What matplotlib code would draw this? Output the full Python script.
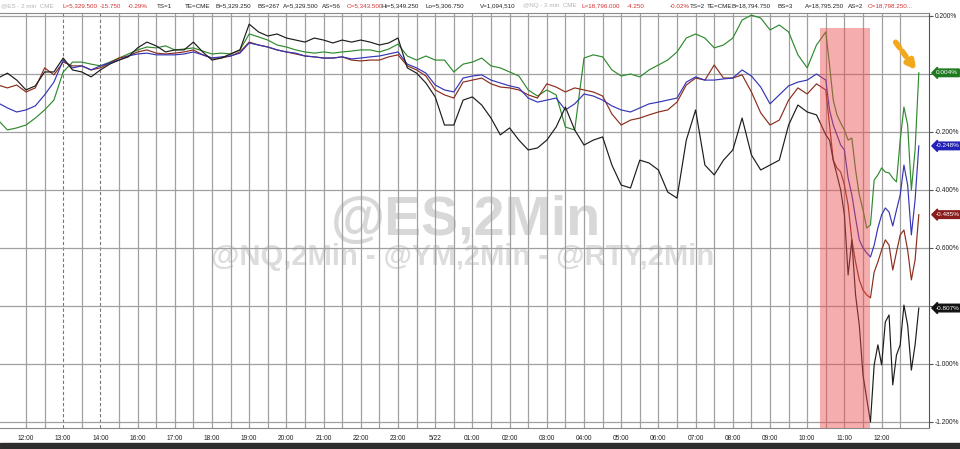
import numpy as np
import matplotlib
matplotlib.use('Agg')
import matplotlib.pyplot as plt
from matplotlib.patches import Rectangle
from matplotlib.transforms import blended_transform_factory

# time axis in session slots: 0 = 12:00, 1 = 13:00, 2 = 14:00, 3 = 16:00 ... 23 = 12:00 next day
t_coarse = np.arange(-0.75, 21.51, 0.25)
t_fine = np.linspace(21.6, 24.0, 25)
t = np.concatenate([t_coarse, t_fine])

tick_labels = ['12:00', '13:00', '14:00', '16:00', '17:00', '18:00', '19:00', '20:00',
               '21:00', '22:00', '23:00', '5/22', '01:00', '02:00', '03:00', '04:00',
               '05:00', '06:00', '07:00', '08:00', '09:00', '10:00', '11:00', '12:00']

# % change
nq = [-0.159, -0.193, -0.186, -0.176, -0.152, -0.124, -0.090, 0.007, 0.041, 0.041,
      0.034, 0.028, 0.041, 0.055, 0.069, 0.083, 0.093, 0.090, 0.097, 0.083,
      0.086, 0.090, 0.079, 0.069, 0.072, 0.069, 0.083, 0.138, 0.128, 0.117,
      0.100, 0.093, 0.083, 0.076, 0.072, 0.076, 0.072, 0.076, 0.079, 0.083,
      0.083, 0.076, 0.086, 0.103, 0.062, 0.048, 0.062, 0.048, 0.048, 0.007,
      0.034, 0.041, 0.055, 0.028, 0.021, 0.007, -0.007, -0.055, -0.076, -0.055,
      -0.072, -0.183, -0.193, 0.055, 0.066, 0.059, 0.014, -0.007, 0.000, -0.010,
      0.014, 0.031, 0.048, 0.076, 0.124, 0.138, 0.124, 0.090, 0.100, 0.124,
      0.186, 0.203, 0.193, 0.152, 0.169, 0.145, 0.066, 0.021, 0.100, 0.145,
      0.031, -0.090, -0.141, -0.169, -0.193, -0.228, -0.221, -0.331, -0.417, -0.469,
      -0.531, -0.521, -0.366, -0.348, -0.324, -0.338, -0.341, -0.359, -0.372, -0.228,
      -0.114, -0.176, -0.400, -0.262, 0.004]

es = [-0.100, -0.117, -0.131, -0.124, -0.110, -0.072, -0.028, 0.048, 0.021, 0.028,
      0.014, 0.028, 0.038, 0.048, 0.062, 0.069, 0.072, 0.066, 0.066, 0.066,
      0.069, 0.076, 0.066, 0.055, 0.059, 0.062, 0.072, 0.107, 0.100, 0.093,
      0.083, 0.076, 0.072, 0.062, 0.059, 0.055, 0.055, 0.059, 0.052, 0.055,
      0.059, 0.062, 0.069, 0.076, 0.034, 0.021, 0.003, -0.038, -0.055, -0.062,
      -0.014, -0.007, -0.003, -0.021, -0.031, -0.041, -0.048, -0.083, -0.097, -0.090,
      -0.083, -0.124, -0.103, -0.069, -0.076, -0.090, -0.110, -0.124, -0.131, -0.117,
      -0.103, -0.097, -0.090, -0.083, -0.028, -0.010, -0.021, -0.021, -0.017, -0.014,
      0.014, -0.007, -0.045, -0.103, -0.072, -0.041, -0.028, -0.021, 0.000, -0.021,
      -0.124, -0.176, -0.210, -0.245, -0.262, -0.359, -0.417, -0.497, -0.572, -0.600,
      -0.617, -0.631, -0.590, -0.531, -0.486, -0.462, -0.476, -0.524, -0.469, -0.417,
      -0.314, -0.383, -0.555, -0.434, -0.248]

ym = [-0.038, -0.048, -0.038, -0.062, -0.048, 0.021, -0.003, 0.041, 0.028, 0.028,
      0.014, 0.021, 0.038, 0.055, 0.062, 0.076, 0.083, 0.072, 0.069, 0.072,
      0.076, 0.083, 0.066, 0.055, 0.055, 0.062, 0.076, 0.110, 0.100, 0.093,
      0.083, 0.076, 0.069, 0.062, 0.059, 0.055, 0.055, 0.059, 0.048, 0.045,
      0.048, 0.048, 0.059, 0.066, 0.028, 0.014, -0.007, -0.055, -0.072, -0.083,
      -0.028, -0.021, -0.014, -0.034, -0.045, -0.048, -0.055, -0.072, -0.083, -0.034,
      -0.045, -0.062, -0.048, -0.055, -0.062, -0.076, -0.138, -0.176, -0.159, -0.152,
      -0.141, -0.131, -0.124, -0.097, -0.038, -0.014, -0.021, 0.031, -0.014, -0.014,
      -0.003, -0.062, -0.134, -0.176, -0.159, -0.090, -0.048, -0.069, -0.034, -0.055,
      -0.176, -0.297, -0.324, -0.338, -0.383, -0.452, -0.572, -0.648, -0.710, -0.745,
      -0.762, -0.772, -0.683, -0.648, -0.607, -0.572, -0.590, -0.676, -0.614, -0.555,
      -0.538, -0.607, -0.710, -0.641, -0.485]

rty = [-0.014, 0.003, -0.021, -0.055, -0.041, 0.007, 0.007, 0.055, 0.014, 0.007,
       -0.010, 0.014, 0.034, 0.048, 0.059, 0.090, 0.110, 0.097, 0.076, 0.083,
       0.083, 0.110, 0.076, 0.048, 0.055, 0.069, 0.083, 0.172, 0.145, 0.131,
       0.138, 0.124, 0.117, 0.110, 0.124, 0.117, 0.107, 0.117, 0.110, 0.117,
       0.110, 0.100, 0.107, 0.124, 0.021, 0.003, -0.031, -0.079, -0.176, -0.176,
       -0.090, -0.079, -0.107, -0.152, -0.210, -0.186, -0.228, -0.262, -0.255, -0.228,
       -0.183, -0.114, -0.193, -0.245, -0.228, -0.217, -0.314, -0.383, -0.393, -0.297,
       -0.307, -0.331, -0.407, -0.428, -0.228, -0.124, -0.314, -0.348, -0.297, -0.262,
       -0.152, -0.279, -0.331, -0.314, -0.297, -0.176, -0.107, -0.131, -0.141, -0.210,
       -0.228, -0.297, -0.348, -0.400, -0.486, -0.693, -0.572, -0.762, -0.866, -1.038,
       -1.120, -1.200, -1.003, -0.934, -1.003, -0.855, -0.831, -1.072, -0.969, -0.934,
       -0.797, -0.866, -1.021, -0.934, -0.807]

yticks = [0.2, 0.0, -0.2, -0.4, -0.6, -0.8, -1.0, -1.2]
shade_start, shade_end = 21.34, 22.69

sans = ['Liberation Sans', 'DejaVu Sans']

fig = plt.figure(figsize=(9.6, 4.49), dpi=100)
ax = fig.add_axes([0, 21 / 449, 929 / 960, 415 / 449])

# grid
for g in np.arange(0, 23.51, 0.5):
    if g in (1.0, 2.0):
        ax.axvline(g, color='#777777', lw=0.8, ls=(0, (3, 2)), zorder=1)
    else:
        ax.axvline(g, color='#a0a0a0', lw=0.9, zorder=1)
for y in yticks:
    ax.axhline(y, color='#a0a0a0', lw=0.9, zorder=1)

# watermark
ax.text(0.485, 0.507, '@ES,2Min', transform=fig.transFigure, fontsize=40, fontweight='bold',
        family=sans, color='#d8d8d8', ha='center', va='center', zorder=0)
ax.text(0.482, 0.427, '@NQ,2Min - @YM,2Min - @RTY,2Min', transform=fig.transFigure,
        fontsize=21, fontweight='bold', family=sans, color='#dcdcdc',
        ha='center', va='center', zorder=0)

ax.plot(t, nq, color='#2f8a2f', lw=0.85, zorder=3)
ax.plot(t, ym, color='#8b2d1c', lw=0.85, zorder=3)
ax.plot(t, es, color='#3535b5', lw=0.85, zorder=3)
ax.plot(t, rty, color='#1c1c1c', lw=0.85, zorder=3)

ax.axvspan(shade_start, shade_end, ymin=0, ymax=0.964, color='#ea4a4a', alpha=0.45,
           lw=0, zorder=4)

ax.set_xlim(-0.699, 24.274)
ax.set_ylim(-1.2207, 0.2103)

ax.set_xticks(range(len(tick_labels)))
ax.set_xticklabels(tick_labels, family=sans, fontsize=4.8, color='#222222')
ax.tick_params(axis='x', length=0, pad=5)
ax.yaxis.tick_right()
ax.set_yticks(yticks)
# 0.000% and -0.800% sit under the last-value badges
ax.set_yticklabels(['' if v in (0.0, -0.8) else '%.3f%%' % v for v in yticks],
                   family=sans, fontsize=4.8, color='#222222')
ax.tick_params(axis='y', length=3, pad=1, color='#555555')

ax.spines['left'].set_visible(False)
for s in ['top', 'bottom']:
    ax.spines[s].set_color('#8a8a8a')
ax.spines['right'].set_color('#555555')

# last-value badges
trans = blended_transform_factory(ax.transAxes, ax.transData)
for series, col in [(nq, '#1f7a1f'), (es, '#2222b8'), (ym, '#8a1c1c'), (rty, '#111111')]:
    v = series[-1]
    ax.text(1.0075, v, '%.3f%%' % v, transform=trans, fontsize=4.6, family=sans,
            color='white', ha='left', va='center', zorder=6, clip_on=False,
            bbox=dict(boxstyle='larrow,pad=0.2', fc=col, ec=col))

# header quote line
header = [
    (1, '@ES - 2 min  CME', '#b5b5b5'), (62, 'L=5,329.500', '#d03030'),
    (100, '-15.750', '#d03030'), (128, '-0.29%', '#d03030'), (157, 'TS=1', '#222222'),
    (185, 'TE=CME', '#222222'), (215, 'B=5,329.250', '#222222'), (257, 'BS=267', '#222222'),
    (283, 'A=5,329.500', '#222222'), (322, 'AS=56', '#222222'), (347, 'O=5,343.500', '#d03030'),
    (382, 'Hi=5,349.250', '#222222'), (425, 'Lo=5,306.750', '#222222'),
    (480, 'V=1,094,510', '#222222'), (523, '@NQ - 2 min  CME', '#b5b5b5'),
    (582, 'L=18,796.000', '#d03030'), (627, '-4.250', '#d03030'), (670, '-0.02%', '#d03030'),
    (690, 'TS=2', '#222222'), (707, 'TE=CME', '#222222'), (732, 'B=18,794.750', '#222222'),
    (778, 'BS=3', '#222222'), (805, 'A=18,795.250', '#222222'), (848, 'AS=2', '#222222'),
    (868, 'O=18,798.250...', '#d03030'),
]
for xp, txt, col in header:
    fig.text(xp / 960, 1 - 6 / 449, txt, fontsize=4.5, family=sans, color=col,
             ha='left', va='center')

# orange pointer
ax.annotate('', xy=(918, 449 - 73), xytext=(894, 449 - 40), xycoords='figure pixels',
            textcoords='figure pixels',
            arrowprops=dict(arrowstyle='-|>', color='#f2a81d', lw=4,
                            linestyle=(0, (1.2, 0.8)), mutation_scale=12))

# dark strip at the bottom
fig.patches.append(Rectangle((0, 0), 1, 6 / 449, transform=fig.transFigure,
                             color='#2e2e2e', zorder=0))

fig.savefig('out.png', dpi=100)
